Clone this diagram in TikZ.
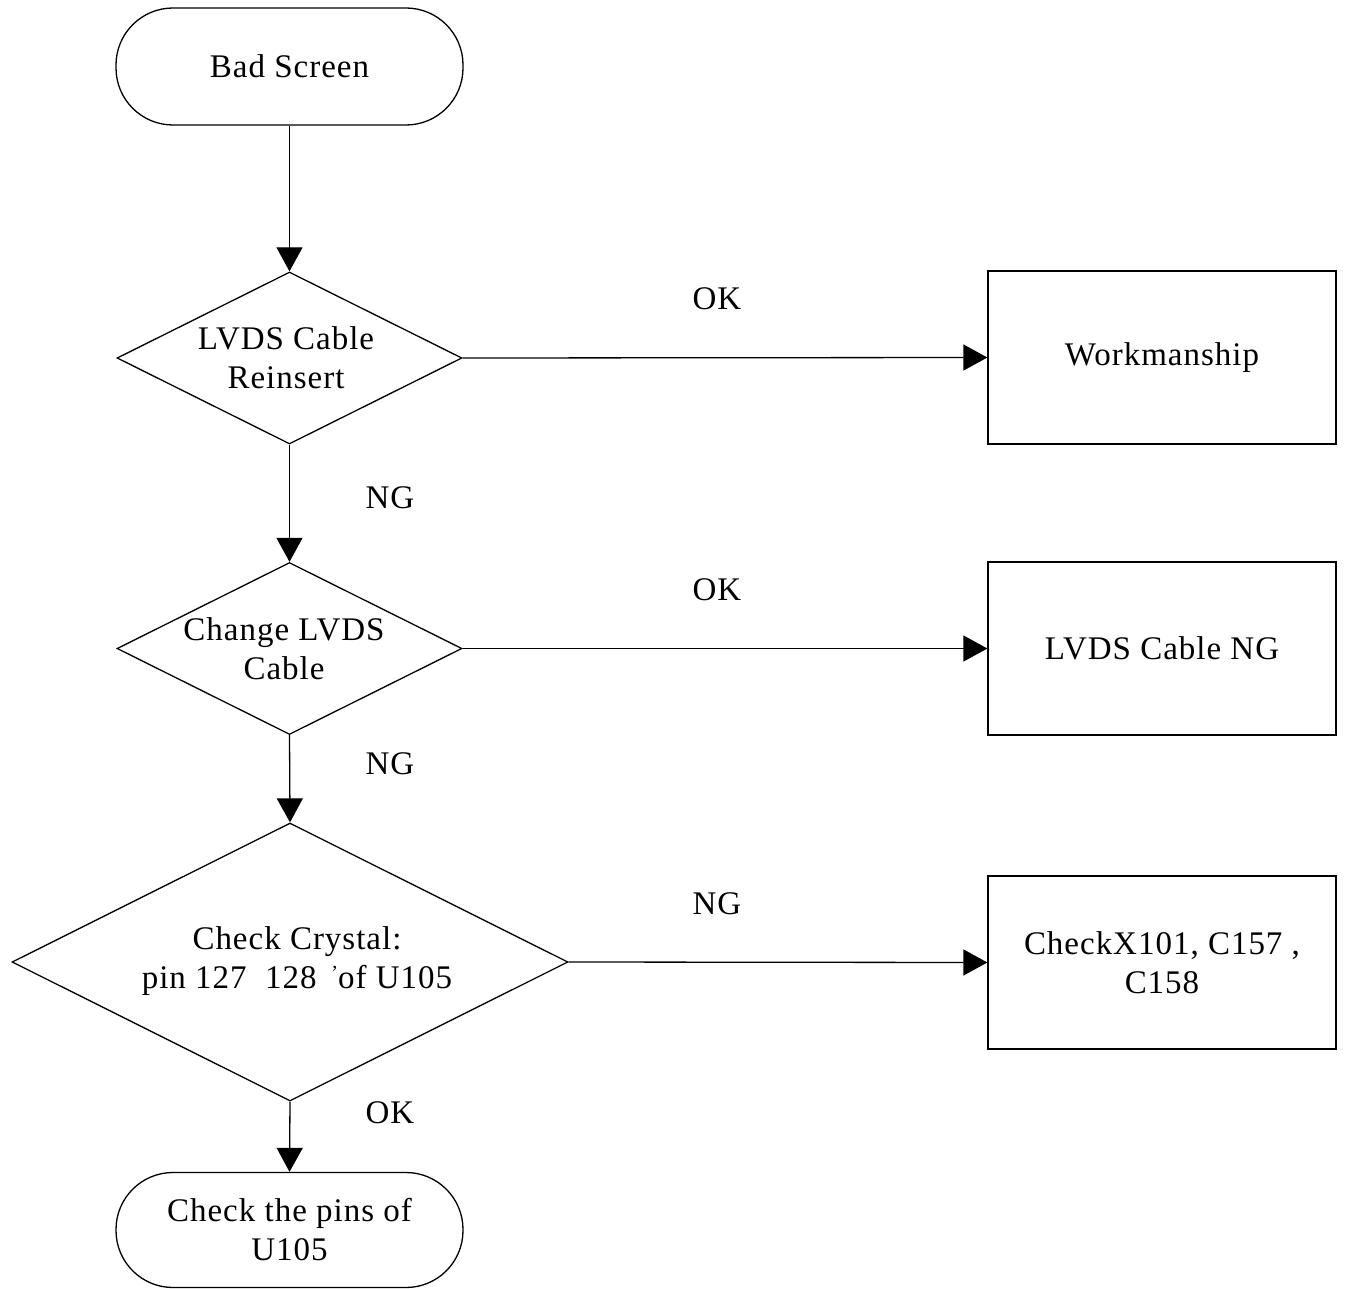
\documentclass[tikz,border=0pt]{standalone}
\usepackage{fontspec}
\setmainfont{Liberation Serif}[LetterSpace=3]
\usetikzlibrary{arrows.meta,shapes.geometric}
\tikzset{
  term/.style={draw, rectangle, rounded corners=57pt, minimum width=347pt, minimum height=117pt, inner sep=0pt, align=center},
  decis/.style={draw, diamond, minimum width=345pt, minimum height=172pt, inner sep=0pt},
  bigdecis/.style={draw, diamond, minimum width=556pt, minimum height=278pt, inner sep=0pt},
  txt/.style={align=center, inner sep=0pt},
  result/.style={draw, rectangle, minimum width=348pt, minimum height=173pt, inner sep=0pt, align=center},
  flow/.style={-{Triangle[length=24pt,width=26pt]}},
  lbl/.style={inner sep=0pt}
}
\begin{document}
\begin{tikzpicture}[x=1pt,y=-1pt, font=\fontsize{33}{39}\selectfont, line width=1.3pt]
\useasboundingbox (0,0) rectangle (1346,1289);
\node[term] (start) at (289.5,66.5) {Bad Screen};
\node[decis] (d1) at (289.5,358) {};
\node[txt] (t1) at (286,358) {LVDS Cable\\Reinsert};
\node[decis] (d2) at (289.5,648.5) {};
\node[txt] (t2) at (284,648.5) {Change LVDS\\Cable};
\node[bigdecis] (d3) at (290,962) {};
\node[txt] (t3) at (297,961) {Check Crystal:\\pin 127\ \ 128 \,\raisebox{9pt}{\fontsize{20}{20}\selectfont'}of U105};
\node[result] (r1) at (1162,357.5) {Workmanship};
\node[result] (r2) at (1162,648.5) {LVDS Cable NG};
\node[result] (r3) at (1162,962.5) {CheckX101, C157 ,\\C158};
\node[term, minimum height=115pt] (stop) at (289.5,1230) {Check the pins of\\U105};

\draw[flow] (start.south) -- (d1.north);
\draw[flow] (d1.south) -- (d2.north);
\draw[flow] (d2.south) -- (d3.north);
\draw[flow] (d3.south) -- (stop.north);
\draw[flow] (d1.east) -- (r1.west);
\draw[flow] (d2.east) -- (r2.west);
\draw[flow] (d3.east) -- (r3.west);

\node[lbl] (l1) at (717,299) {OK};
\node[lbl] (l2) at (717,590) {OK};
\node[lbl] (l3) at (717,904) {NG};
\node[lbl] (l4) at (390,498) {NG};
\node[lbl] (l5) at (390,764) {NG};
\node[lbl] (l6) at (390,1113) {OK};
\end{tikzpicture}
\end{document}
